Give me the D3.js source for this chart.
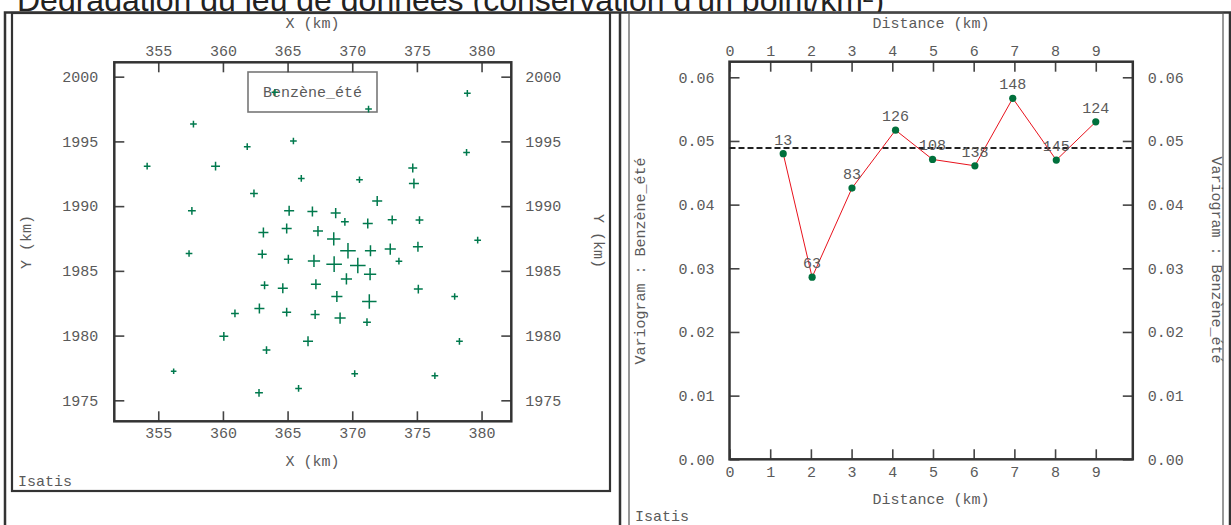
<!DOCTYPE html>
<html><head><meta charset="utf-8">
<script src="https://cdn.jsdelivr.net/npm/d3@7"></script>
<style>
html,body{margin:0;padding:0;background:#fff;overflow:hidden;}
svg{display:block;}
</style></head>
<body>
<svg id="c" width="1231" height="525"></svg>
<script>
// ---------- data ----------
const titleText = "Dégradation du jeu de données (conservation d'un point/km²)";
const stationX = [364.02,378.9,371.26,357.72,365.45,361.88,378.84,354.14,359.43,374.68,366.06,370.56,374.77,362.4,371.93,357.6,365.12,366.92,368.72,369.43,371.2,373.09,375.2,363.13,364.93,367.35,368.57,379.7,357.38,363.04,369.67,371.41,372.94,375.08,365.06,367.04,368.6,370.43,373.61,371.38,369.55,363.22,364.63,367.19,375.11,377.92,368.81,371.32,362.82,360.93,364.93,367.13,369.06,371.14,360.07,366.58,378.29,363.37,356.19,370.19,376.39,365.85,362.79];
const stationY = [1998.79,1998.71,1997.5,1996.34,1995.03,1994.59,1994.15,1993.09,1993.09,1992.94,1992.14,1992.04,1991.75,1990.98,1990.39,1989.64,1989.64,1989.59,1989.46,1988.79,1988.66,1988.94,1988.92,1987.96,1988.27,1988.07,1987.47,1987.37,1986.34,1986.29,1986.55,1986.55,1986.68,1986.86,1985.9,1985.77,1985.52,1985.41,1985.75,1984.74,1984.38,1983.89,1983.66,1983.97,1983.59,1983.02,1983.02,1982.63,1982.1,1981.71,1981.81,1981.63,1981.35,1981.04,1979.94,1979.56,1979.56,1978.88,1977.24,1977.06,1976.9,1975.92,1975.58];
const benzene = [1.2,1.2,1.2,1.2,1.2,1.2,1.2,1.2,1.6,1.6,1.2,1.2,1.8,1.4,1.8,1.4,1.8,1.8,1.8,1.4,1.8,1.6,1.4,1.8,1.8,1.8,2.4,1.2,1.2,1.6,2.8,2.0,2.0,1.8,1.6,2.2,2.8,2.8,1.2,2.2,2.0,1.4,1.8,1.8,1.6,1.2,2.0,2.6,1.8,1.4,1.6,1.6,2.0,1.4,1.6,1.8,1.2,1.4,1.0,1.2,1.2,1.2,1.4];
const xTicks = [355,360,365,370,375,380];
const yTicks = [1975,1980,1985,1990,1995,2000];
const legendLabel = "Benzène_été";

const lagDist = [1.32,2.03,3.01,4.08,4.99,6.03,6.96,8.03,9.00];
const gamma = [0.0480,0.0286,0.0426,0.0517,0.0471,0.0461,0.0567,0.0470,0.0530];
const pairs = [13,63,83,126,108,138,148,145,124];
const variance = 0.0489;
const distTicks = [0,1,2,3,4,5,6,7,8,9];
const gammaTicks = [0,0.01,0.02,0.03,0.04,0.05,0.06];

// ---------- drawing ----------
const svg = d3.select("#c");
const MONO = "'Liberation Mono','Courier New',monospace";
const TXT = "#5a5a5a";
const FS = 15;

// title (clipped above the frame line)
svg.append("clipPath").attr("id","tclip").append("rect")
  .attr("x",0).attr("y",0).attr("width",1231).attr("height",12);
svg.append("text").attr("x",17).attr("y",11).attr("clip-path","url(#tclip)")
  .attr("font-family","'Liberation Sans',Arial,sans-serif").attr("font-size",32)
  .attr("fill","#222").text(titleText);

// frames
const frame = svg.append("g").attr("fill","none");
frame.append("rect").attr("x",5).attr("y",12.5).attr("width",1225).attr("height",530)
  .attr("stroke","#333").attr("stroke-width",2.5);
frame.append("line").attr("x1",620).attr("x2",620).attr("y1",12).attr("y2",530)
  .attr("stroke","#333").attr("stroke-width",2.5);
frame.append("rect").attr("x",12).attr("y",13).attr("width",598).attr("height",478)
  .attr("stroke","#333").attr("stroke-width",2.2);
frame.append("rect").attr("x",629).attr("y",13).attr("width",594).attr("height",530)
  .attr("stroke","#555").attr("stroke-width",1.2);

function txt(g, x, y, s, anchor, rot){
  const t = g.append("text").attr("font-family",MONO).attr("font-size",FS)
    .attr("fill",TXT).attr("text-anchor",anchor||"middle").text(s);
  if(rot){ t.attr("transform",`translate(${x},${y}) rotate(${rot})`); }
  else { t.attr("x",x).attr("y",y); }
  return t;
}

// ---------- left: base map ----------
const L = {x0:114.3, x1:511.3, y0:62.3, y1:421.3};
const sx = d3.scaleLinear().domain([351.6,382.3]).range([L.x0,L.x1]);
const sy = d3.scaleLinear().domain([1973.38,2001.11]).range([L.y1,L.y0]);
const gl = svg.append("g");

function inwardAxes(g, xs, ys, box, xt, yt, xfmt, yfmt, opts){
  const tk = 10;
  const axes = [
    [d3.axisTop(xs).tickValues(xt).tickSize(-tk).tickFormat(xfmt), `translate(0,${box.y0})`],
    [d3.axisBottom(xs).tickValues(xt).tickSize(-tk).tickFormat(xfmt), `translate(0,${box.y1})`],
    [d3.axisLeft(ys).tickValues(yt).tickSize(-tk).tickFormat(yfmt), `translate(${box.x0},0)`],
    [d3.axisRight(ys).tickValues(yt).tickSize(-tk).tickFormat(yfmt), `translate(${box.x1},0)`]
  ];
  axes.forEach(([ax,tr],i)=>{
    const a = g.append("g").attr("transform",tr).call(ax.tickPadding(opts.pad[i]));
    a.select(".domain").remove();
    a.selectAll(".tick line").attr("stroke","#444").attr("stroke-width",1.6);
    a.selectAll(".tick text").attr("font-family",MONO).attr("font-size",FS).attr("fill",TXT);
  });
  g.append("rect").attr("x",box.x0).attr("y",box.y0).attr("width",box.x1-box.x0)
    .attr("height",box.y1-box.y0).attr("fill","none").attr("stroke","#333").attr("stroke-width",2.5);
}

// legend
gl.append("rect").attr("x",248).attr("y",72).attr("width",129).attr("height",40)
  .attr("fill","none").attr("stroke","#777").attr("stroke-width",1.6);
txt(gl, 312.5, 97, legendLabel);

// crosses
const size = d3.scaleLinear().domain([0,2.8]).range([0,7.8]);
gl.append("g").selectAll("path").data(stationX.map((x,i)=>({x, y:stationY[i], v:benzene[i]})))
  .join("path")
  .attr("d", d=>{const X=sx(d.x), Y=sy(d.y), s=size(d.v);
    return `M${X-s},${Y}H${X+s}M${X},${Y-s}V${Y+s}`;})
  .attr("stroke","#00794d").attr("stroke-width",1.5).attr("fill","none");

inwardAxes(gl, sx, sy, L, xTicks, yTicks, d3.format("d"), d3.format("d"), {pad:[6,6,16,14]});

txt(gl, 312.5, 28, "X (km)");
txt(gl, 312.5, 466, "X (km)");
txt(gl, 31, 242, "Y (km)", "middle", -90);
txt(gl, 594, 241, "Y (km)", "middle", 90);
txt(gl, 18, 486, "Isatis", "start");

// ---------- right: variogram ----------
const R = {x0:729.5, x1:1132.8, y0:61.7, y1:459.3};
const vx = d3.scaleLinear().domain([0,9.91]).range([R.x0,R.x1]);
const vy = d3.scaleLinear().domain([0,0.06245]).range([R.y1,R.y0]);
const gr = svg.append("g");

inwardAxes(gr, vx, vy, R, distTicks, gammaTicks, d3.format("d"), d3.format(".2f"), {pad:[6,7,15,15]});

gr.append("line").attr("x1",R.x0).attr("x2",R.x1).attr("y1",vy(variance)).attr("y2",vy(variance))
  .attr("stroke","#222").attr("stroke-width",2).attr("stroke-dasharray","6,3");

const vdata = lagDist.map((d,i)=>({d, g:gamma[i], n:pairs[i]}));
gr.append("path").datum(vdata)
  .attr("d", d3.line().x(p=>vx(p.d)).y(p=>vy(p.g)))
  .attr("fill","none").attr("stroke","#e8121c").attr("stroke-width",1);
gr.append("g").selectAll("text").data(vdata).join("text")
  .attr("x",p=>vx(p.d)).attr("y",p=>vy(p.g)-9)
  .attr("text-anchor","middle").attr("font-family",MONO).attr("font-size",FS).attr("fill",TXT)
  .text(p=>p.n);
gr.append("g").selectAll("circle").data(vdata).join("circle")
  .attr("cx",p=>vx(p.d)).attr("cy",p=>vy(p.g)).attr("r",3.6).attr("fill","#00703c");

txt(gr, 931, 28, "Distance (km)");
txt(gr, 931, 504, "Distance (km)");
txt(gr, 645, 261, "Variogram : Benzène_été", "middle", -90);
txt(gr, 1212, 260, "Variogram : Benzène_été", "middle", 90);
txt(gr, 635, 521, "Isatis", "start");
</script>
</body></html>
